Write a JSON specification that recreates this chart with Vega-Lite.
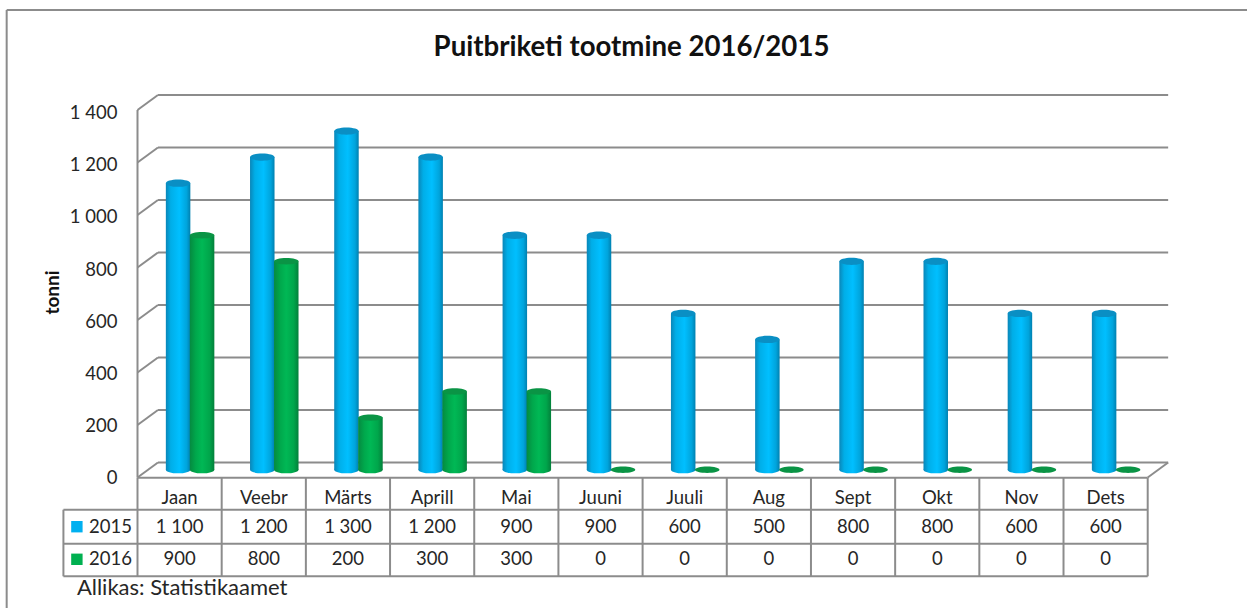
{
"$schema":"https://vega.github.io/schema/vega-lite/v6.json",
"width":1247,"height":608,"padding":0,"autosize":{"type":"none"},"background":"white",
"config":{"view":{"stroke":null},"locale":{"number":{"decimal":",","thousands":" ","grouping":[3],"currency":["","€"]}}},
"title":{"text":"Puitbriketi tootmine 2016/2015","font":"Lato","fontWeight":"bold","fontSize":27.6,"color":"#111111","anchor":"middle","dx":8,"offset":-84,"baseline":"alphabetic"},
"datasets":{
"tonnes":[
{"month":"Jaan","year":2015,"value":1100},{"month":"Veebr","year":2015,"value":1200},{"month":"Märts","year":2015,"value":1300},{"month":"Aprill","year":2015,"value":1200},{"month":"Mai","year":2015,"value":900},{"month":"Juuni","year":2015,"value":900},{"month":"Juuli","year":2015,"value":600},{"month":"Aug","year":2015,"value":500},{"month":"Sept","year":2015,"value":800},{"month":"Okt","year":2015,"value":800},{"month":"Nov","year":2015,"value":600},{"month":"Dets","year":2015,"value":600},
{"month":"Jaan","year":2016,"value":900},{"month":"Veebr","year":2016,"value":800},{"month":"Märts","year":2016,"value":200},{"month":"Aprill","year":2016,"value":300},{"month":"Mai","year":2016,"value":300},{"month":"Juuni","year":2016,"value":0},{"month":"Juuli","year":2016,"value":0},{"month":"Aug","year":2016,"value":0},{"month":"Sept","year":2016,"value":0},{"month":"Okt","year":2016,"value":0},{"month":"Nov","year":2016,"value":0},{"month":"Dets","year":2016,"value":0}],
"wall":[
{"a":-1.554,"b":-1.554,"t0":1781,"t1":-497},{"a":-1.554,"b":13.18,"t0":1781,"t1":1781},
{"a":0,"b":0,"t0":0,"t1":1400},
{"a":0.243,"b":12.243,"t0":57,"t1":57},{"a":0.243,"b":12.243,"t0":257,"t1":257},{"a":0.243,"b":12.243,"t0":457,"t1":457},{"a":0.243,"b":12.243,"t0":657,"t1":657},{"a":0.243,"b":12.243,"t0":857,"t1":857},{"a":0.243,"b":12.243,"t0":1057,"t1":1057},{"a":0.243,"b":12.243,"t0":1257,"t1":1257},{"a":0.243,"b":12.243,"t0":1457,"t1":1457},
{"a":0,"b":0.243,"t0":0,"t1":57},{"a":0,"b":0.243,"t0":200,"t1":257},{"a":0,"b":0.243,"t0":400,"t1":457},{"a":0,"b":0.243,"t0":600,"t1":657},{"a":0,"b":0.243,"t0":800,"t1":857},{"a":0,"b":0.243,"t0":1000,"t1":1057},{"a":0,"b":0.243,"t0":1200,"t1":1257},{"a":0,"b":0.243,"t0":1400,"t1":1457},
{"a":12,"b":12.243,"t0":0,"t1":57}],
"grid":[
{"a":0,"b":12,"r0":0,"r1":0},{"a":-0.88,"b":12,"r0":1,"r1":1},{"a":-0.88,"b":12,"r0":2,"r1":2},{"a":-0.88,"b":12,"r0":3,"r1":3},
{"a":-0.88,"b":-0.88,"r0":1,"r1":3},
{"a":0,"b":0,"r0":0,"r1":3},{"a":1,"b":1,"r0":0,"r1":3},{"a":2,"b":2,"r0":0,"r1":3},{"a":3,"b":3,"r0":0,"r1":3},{"a":4,"b":4,"r0":0,"r1":3},{"a":5,"b":5,"r0":0,"r1":3},{"a":6,"b":6,"r0":0,"r1":3},{"a":7,"b":7,"r0":0,"r1":3},{"a":8,"b":8,"r0":0,"r1":3},{"a":9,"b":9,"r0":0,"r1":3},{"a":10,"b":10,"r0":0,"r1":3},{"a":11,"b":11,"r0":0,"r1":3},{"a":12,"b":12,"r0":0,"r1":3}],
"years":[{"year":2015},{"year":2016}]
},
"resolve":{"scale":{"x":"independent","y":"independent"},"axis":{"x":"independent","y":"independent"}},
"layer":[
{"data":{"name":"wall"},"mark":{"type":"rule","color":"#8c8c8c","strokeWidth":2},
 "encoding":{"x":{"field":"a","type":"quantitative","axis":null,"scale":{"domain":[0,12],"range":[137.5,1147.7]}},"x2":{"field":"b"},
 "y":{"field":"t0","type":"quantitative","axis":null,"scale":{"domain":[0,1400],"range":[477.5,110]}},"y2":{"field":"t1"}}},
{"data":{"name":"grid"},"mark":{"type":"rule","color":"#8c8c8c","strokeWidth":2},
 "encoding":{"x":{"field":"a","type":"quantitative","axis":null,"scale":{"domain":[0,12],"range":[137.5,1147.7]}},"x2":{"field":"b"},
 "y":{"field":"r0","type":"quantitative","axis":null,"scale":{"domain":[0,1,2,3],"range":[477.7,509.7,543.7,576.3]}},"y2":{"field":"r1"}}},
{"data":{"name":"tonnes"},"transform":[{"filter":"datum.year===2015"}],
 "mark":{"type":"point","shape":"M-1,0A1,0.3,0,1,1,1,0A1,0.3,0,1,1,-1,0Z","size":600,"filled":true,"opacity":1,"xOffset":-1.5,"fill":{"x1":0,"y1":0,"x2":1,"y2":0,"gradient":"linear","stops":[{"offset":0,"color":"#0a86b8"},{"offset":0.2,"color":"#00aee8"},{"offset":0.55,"color":"#00bfff"},{"offset":0.85,"color":"#00a4dc"},{"offset":1,"color":"#0080b0"}]}},
 "encoding":{"x":{"field":"month","type":"nominal","axis":null,"scale":{"type":"band","domain":["Jaan","Veebr","Märts","Aprill","Mai","Juuni","Juuli","Aug","Sept","Okt","Nov","Dets"],"range":[137.5,1147.7],"paddingInner":0,"paddingOuter":0}},
 "y":{"datum":0,"type":"quantitative","axis":null,"scale":{"domain":[0,1400],"range":[469.7,105]}}}},
{"data":{"name":"tonnes"},"transform":[{"filter":"datum.year===2015"}],
 "mark":{"type":"bar","width":24.5,"xOffset":-1.5,"fill":{"x1":0,"y1":0,"x2":1,"y2":0,"gradient":"linear","stops":[{"offset":0,"color":"#0a86b8"},{"offset":0.2,"color":"#00aee8"},{"offset":0.55,"color":"#00bfff"},{"offset":0.85,"color":"#00a4dc"},{"offset":1,"color":"#0080b0"}]}},
 "encoding":{"x":{"field":"month","type":"nominal","axis":null,"scale":{"type":"band","domain":["Jaan","Veebr","Märts","Aprill","Mai","Juuni","Juuli","Aug","Sept","Okt","Nov","Dets"],"range":[137.5,1147.7],"paddingInner":0,"paddingOuter":0}},
 "y":{"field":"value","type":"quantitative","scale":{"domain":[0,1400],"range":[469.7,105]},
  "axis":{"values":[0,200,400,600,800,1000,1200,1400],"format":",d","grid":false,"ticks":false,"domain":false,"labelFont":"Lato","labelFontSize":18.5,"labelColor":"#262626","labelPadding":0,"labelOffset":7.7,"offset":-117,"title":"tonni","titleFont":"Lato","titleFontWeight":"bold","titleFontSize":19,"titleColor":"#111111","titleX":-65,"titleY":292,"titleAngle":-90,"titleBaseline":"middle","titleAlign":"center"}}}},
{"data":{"name":"tonnes"},"transform":[{"filter":"datum.year===2015"}],
 "mark":{"type":"point","shape":"M-1,0A1,0.3,0,1,1,1,0A1,0.3,0,1,1,-1,0Z","size":600,"filled":true,"opacity":1,"xOffset":-1.5,"fill":"#0a8fc4"},
 "encoding":{"x":{"field":"month","type":"nominal","axis":null,"scale":{"type":"band","domain":["Jaan","Veebr","Märts","Aprill","Mai","Juuni","Juuli","Aug","Sept","Okt","Nov","Dets"],"range":[137.5,1147.7],"paddingInner":0,"paddingOuter":0}},
 "y":{"field":"value","type":"quantitative","axis":null,"scale":{"domain":[0,1400],"range":[469.7,105]}}}},
{"data":{"name":"tonnes"},"transform":[{"filter":"datum.year===2016 && datum.value>0"}],
 "mark":{"type":"point","shape":"M-1,0A1,0.3,0,1,1,1,0A1,0.3,0,1,1,-1,0Z","size":600,"filled":true,"opacity":1,"xOffset":22.5,"fill":{"x1":0,"y1":0,"x2":1,"y2":0,"gradient":"linear","stops":[{"offset":0,"color":"#058a40"},{"offset":0.25,"color":"#00a84c"},{"offset":0.5,"color":"#00b855"},{"offset":0.8,"color":"#00a64b"},{"offset":1,"color":"#03803b"}]}},
 "encoding":{"x":{"field":"month","type":"nominal","axis":null,"scale":{"type":"band","domain":["Jaan","Veebr","Märts","Aprill","Mai","Juuni","Juuli","Aug","Sept","Okt","Nov","Dets"],"range":[137.5,1147.7],"paddingInner":0,"paddingOuter":0}},
 "y":{"datum":0,"type":"quantitative","axis":null,"scale":{"domain":[0,1400],"range":[469.7,105]}}}},
{"data":{"name":"tonnes"},"transform":[{"filter":"datum.year===2016"}],
 "mark":{"type":"bar","width":24.5,"xOffset":22.5,"fill":{"x1":0,"y1":0,"x2":1,"y2":0,"gradient":"linear","stops":[{"offset":0,"color":"#058a40"},{"offset":0.25,"color":"#00a84c"},{"offset":0.5,"color":"#00b855"},{"offset":0.8,"color":"#00a64b"},{"offset":1,"color":"#03803b"}]}},
 "encoding":{"x":{"field":"month","type":"nominal","axis":null,"scale":{"type":"band","domain":["Jaan","Veebr","Märts","Aprill","Mai","Juuni","Juuli","Aug","Sept","Okt","Nov","Dets"],"range":[137.5,1147.7],"paddingInner":0,"paddingOuter":0}},
 "y":{"field":"value","type":"quantitative","axis":null,"scale":{"domain":[0,1400],"range":[469.7,105]}}}},
{"data":{"name":"tonnes"},"transform":[{"filter":"datum.year===2016"}],
 "mark":{"type":"point","shape":"M-1,0A1,0.26,0,1,1,1,0A1,0.26,0,1,1,-1,0Z","size":600,"filled":true,"opacity":1,"xOffset":22.5,"fill":"#0a9445"},
 "encoding":{"x":{"field":"month","type":"nominal","axis":null,"scale":{"type":"band","domain":["Jaan","Veebr","Märts","Aprill","Mai","Juuni","Juuli","Aug","Sept","Okt","Nov","Dets"],"range":[137.5,1147.7],"paddingInner":0,"paddingOuter":0}},
 "y":{"field":"value","type":"quantitative","axis":null,"scale":{"domain":[0,1400],"range":[469.7,105]}}}},
{"data":{"name":"tonnes"},"transform":[{"filter":"datum.year===2015"}],
 "mark":{"type":"text","font":"Lato","fontSize":18.5,"color":"#262626","baseline":"middle","align":"center"},
 "encoding":{"x":{"field":"month","type":"nominal","axis":null,"scale":{"type":"band","domain":["Jaan","Veebr","Märts","Aprill","Mai","Juuni","Juuli","Aug","Sept","Okt","Nov","Dets"],"range":[137.5,1147.7],"paddingInner":0,"paddingOuter":0}},
 "y":{"datum":2014,"type":"quantitative","axis":null,"scale":{"domain":[2014,2015,2016,2017],"range":[498,526.7,559.3,587.5]}},
 "text":{"field":"month","type":"nominal"}}},
{"data":{"name":"tonnes"},
 "mark":{"type":"text","font":"Lato","fontSize":18.5,"color":"#262626","baseline":"middle","align":"center"},
 "encoding":{"x":{"field":"month","type":"nominal","axis":null,"scale":{"type":"band","domain":["Jaan","Veebr","Märts","Aprill","Mai","Juuni","Juuli","Aug","Sept","Okt","Nov","Dets"],"range":[137.5,1147.7],"paddingInner":0,"paddingOuter":0}},
 "y":{"field":"year","type":"quantitative","axis":null,"scale":{"domain":[2014,2015,2016,2017],"range":[498,526.7,559.3,587.5]}},
 "text":{"field":"value","type":"quantitative","format":",d"}}},
{"data":{"name":"years"},
 "mark":{"type":"text","font":"Lato","fontSize":18.5,"color":"#262626","baseline":"middle","align":"left"},
 "encoding":{"x":{"datum":-0.575,"type":"quantitative","axis":null,"scale":{"domain":[0,12],"range":[137.5,1147.7]}},
 "y":{"field":"year","type":"quantitative","axis":null,"scale":{"domain":[2014,2015,2016,2017],"range":[498,526.7,559.3,587.5]}},
 "text":{"field":"year","type":"nominal"}}},
{"data":{"name":"years"},
 "mark":{"type":"point","shape":"square","size":130,"filled":true,"opacity":1},
 "encoding":{"x":{"datum":-0.72,"type":"quantitative","axis":null,"scale":{"domain":[0,12],"range":[137.5,1147.7]}},
 "y":{"field":"year","type":"quantitative","axis":null,"scale":{"domain":[2014,2015,2016,2017],"range":[498,526.7,559.3,587.5]}},
 "color":{"field":"year","type":"nominal","legend":null,"scale":{"domain":[2015,2016],"range":["#00b0f0","#00b050"]}}}},
{"data":{"values":[{"source":"Allikas: Statistikaamet"}]},
 "mark":{"type":"text","font":"Lato","fontSize":22,"color":"#262626","baseline":"middle","align":"left"},
 "encoding":{"x":{"datum":-0.72,"type":"quantitative","axis":null,"scale":{"domain":[0,12],"range":[137.5,1147.7]}},
 "y":{"datum":2017,"type":"quantitative","axis":null,"scale":{"domain":[2014,2015,2016,2017],"range":[498,526.7,559.3,587.5]}},
 "text":{"field":"source","type":"nominal"}}}
]
}
